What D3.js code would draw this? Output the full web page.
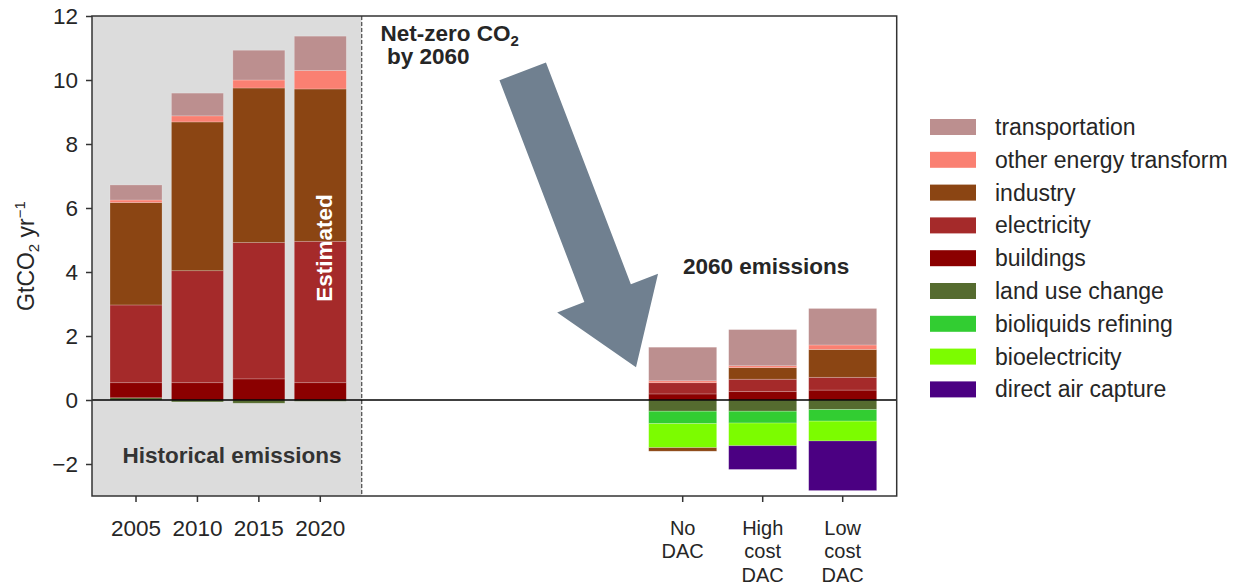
<!DOCTYPE html>
<html>
<head>
<meta charset="utf-8">
<script src="https://cdn.jsdelivr.net/npm/d3@7"></script>
<style>
  html, body { margin: 0; padding: 0; background: #fff; }
  text { font-family: "Liberation Sans", Arial, sans-serif; }
</style>
</head>
<body>
<svg id="chart" width="1238" height="587"></svg>
<script>
// ---------------- data ----------------
const historicalYears = ["2005", "2010", "2015", "2020"];
const scenarios = ["No DAC", "High cost DAC", "Low cost DAC"];
const categories = historicalYears.concat(scenarios);

// values per bar, order follows categories (GtCO2 / yr)
const transportation  = [0.47, 0.71, 0.93, 1.07, 1.05, 1.13, 1.14];
const otherEnergy     = [0.08, 0.19, 0.25, 0.58, 0.06, 0.06, 0.14];
const industry        = [3.20, 4.65, 4.83, 4.76, -0.11, 0.36, 0.87];
const electricity     = [2.43, 3.50, 4.26, 4.42, 0.35, 0.39, 0.40];
const buildings       = [0.47, 0.54, 0.66, 0.54, 0.19, 0.26, 0.31];
const landUseChange   = [0.07, -0.06, -0.10, -0.04, -0.35, -0.35, -0.30];
const bioliquids      = [0, 0, 0, 0, -0.39, -0.37, -0.36];
const bioelectricity  = [0, 0, 0, 0, -0.75, -0.71, -0.62];
const directAirCapture= [0, 0, 0, 0, 0, -0.74, -1.55];

const yTicks = [-2, 0, 2, 4, 6, 8, 10, 12];

const sectorNames = ["transportation", "other energy transform", "industry", "electricity",
  "buildings", "land use change", "bioliquids refining", "bioelectricity", "direct air capture"];
const sectorColors = ["#bc8f8f", "#fa8072", "#8b4513", "#a52a2a", "#8b0000",
  "#556b2f", "#32cd32", "#7cfc00", "#4b0082"];
const sectorValues = [transportation, otherEnergy, industry, electricity, buildings,
  landUseChange, bioliquids, bioelectricity, directAirCapture];

// stacking order (closest to zero first)
const stackKeys = ["land use change", "bioliquids refining", "bioelectricity", "buildings",
  "electricity", "industry", "other energy transform", "transportation", "direct air capture"];

// ---------------- layout ----------------
const svg = d3.select("#chart");
const W = 1238, H = 587;
const plot = { left: 92, right: 896.7, top: 16, bottom: 496 };
const divider = 361.7;
const ink = "#262626";
const tickFont = "22.5px";

const y = d3.scaleLinear().domain([-3, 12]).range([plot.bottom, plot.top]);

const xHist = d3.scaleBand().domain(historicalYears).range([105.3, 351])
  .paddingInner(0.153).paddingOuter(0.0765);
const xScen = d3.scaleBand().domain(scenarios).range([642.7, 882.7])
  .paddingInner(0.15).paddingOuter(0.075);
const xOf = c => historicalYears.includes(c) ? xHist(c) : xScen(c);
const bwOf = c => historicalYears.includes(c) ? xHist.bandwidth() : xScen.bandwidth();

// table for d3.stack
const table = categories.map((c, i) => {
  const row = { category: c };
  sectorNames.forEach((s, k) => row[s] = sectorValues[k][i]);
  return row;
});
const series = d3.stack().keys(stackKeys).offset(d3.stackOffsetDiverging)(table);
const color = d3.scaleOrdinal().domain(sectorNames).range(sectorColors);

// background
svg.append("rect").attr("width", W).attr("height", H).attr("fill", "#fff");
svg.append("rect").attr("x", plot.left).attr("y", plot.top)
  .attr("width", divider - plot.left).attr("height", plot.bottom - plot.top)
  .attr("fill", "#dcdcdc");

// bars
svg.append("g").selectAll("g").data(series).join("g")
  .attr("fill", d => color(d.key))
  .selectAll("rect").data(d => d.filter(s => s[1] - s[0] !== 0)).join("rect")
  .attr("x", d => xOf(d.data.category))
  .attr("width", d => bwOf(d.data.category))
  .attr("y", d => y(Math.max(d[0], d[1])))
  .attr("height", d => Math.abs(y(d[0]) - y(d[1])))
  .attr("stroke", "rgba(255,255,255,0.3)")
  .attr("stroke-width", 0.7);

// divider dashed line
svg.append("line").attr("x1", divider).attr("x2", divider)
  .attr("y1", plot.top).attr("y2", plot.bottom)
  .attr("stroke", "#555").attr("stroke-width", 1.3).attr("stroke-dasharray", "4,2");

// zero line
svg.append("line").attr("x1", plot.left).attr("x2", plot.right)
  .attr("y1", y(0)).attr("y2", y(0)).attr("stroke", "#000").attr("stroke-width", 1.5);

// frame
svg.append("rect").attr("x", plot.left).attr("y", plot.top)
  .attr("width", plot.right - plot.left).attr("height", plot.bottom - plot.top)
  .attr("fill", "none").attr("stroke", "#333").attr("stroke-width", 1.5);

// y axis
const yAxis = svg.append("g").attr("transform", `translate(${plot.left},0)`)
  .call(d3.axisLeft(y).tickValues(yTicks).tickSize(6).tickPadding(8).tickFormat(d3.format("d")));
yAxis.select(".domain").remove();
yAxis.selectAll(".tick line").attr("stroke", "#333").attr("stroke-width", 1.5);
yAxis.selectAll(".tick text").attr("fill", ink).style("font-size", tickFont)
  .style("font-family", "Liberation Sans, Arial, sans-serif");

// x axes
function styleX(g, size) {
  g.select(".domain").remove();
  g.selectAll(".tick line").attr("stroke", "#333").attr("stroke-width", 1.5);
  g.selectAll(".tick text").attr("fill", ink).style("font-size", size)
    .style("font-family", "Liberation Sans, Arial, sans-serif");
}
const xh = svg.append("g").attr("transform", `translate(0,${plot.bottom})`)
  .call(d3.axisBottom(xHist).tickSize(6).tickPadding(18));
styleX(xh, tickFont);
const xs = svg.append("g").attr("transform", `translate(0,${plot.bottom})`)
  .call(d3.axisBottom(xScen).tickSize(6).tickPadding(19));
styleX(xs, "20px");
xs.selectAll(".tick text").each(function(d) {
  const t = d3.select(this);
  const words = d.split(" ");
  t.text(null);
  words.forEach((w, i) => {
    t.append("tspan").attr("x", 0).attr("dy", i === 0 ? "0.71em" : "1.16em").text(w);
  });
  t.attr("dy", null);
});

// y label
const yl = svg.append("text").attr("transform", "translate(34,256) rotate(-90)")
  .attr("text-anchor", "middle").attr("fill", ink).style("font-size", "23px");
yl.append("tspan").text("GtCO");
yl.append("tspan").attr("dy", 5).style("font-size", "15px").text("2");
yl.append("tspan").attr("dy", -5).text(" yr");
yl.append("tspan").attr("dy", -9).style("font-size", "15px").text("\u22121");

// annotations
function boldText(x, yy, str, fill) {
  const t = svg.append("text").attr("x", x).attr("y", yy).attr("fill", fill || ink)
    .style("font-size", "22.5px").style("font-weight", "bold");
  if (str !== null) t.text(str);
  return t;
}
boldText(232, 463, "Historical emissions", "#333").attr("text-anchor", "middle");
boldText(0, 0, "Estimated", "#fff").attr("text-anchor", "middle")
  .attr("dominant-baseline", "central")
  .attr("transform", "translate(324,248) rotate(-90)");
const nz = boldText(380.5, 41, null);
nz.append("tspan").text("Net-zero CO");
nz.append("tspan").attr("dy", 5).style("font-size", "15px").text("2");
boldText(387, 64, "by 2060");
boldText(683, 274, "2060 emissions");

// arrow (annotation)
const tail = [522.7, 71.3], tip = [636, 367.3];
const shaftW = 49.8, headW = 108, headL = 79.4;
const dx = tip[0] - tail[0], dy = tip[1] - tail[1];
const L = Math.hypot(dx, dy), ux = dx / L, uy = dy / L, px = -uy, py = ux;
const base = [tip[0] - ux * headL, tip[1] - uy * headL];
const pt = (p, s) => [p[0] + px * s, p[1] + py * s];
const arrowPts = [pt(tail, shaftW / 2), pt(base, shaftW / 2), pt(base, headW / 2), tip,
  pt(base, -headW / 2), pt(base, -shaftW / 2), pt(tail, -shaftW / 2)];
svg.append("polygon").attr("points", arrowPts.map(p => p.join(",")).join(" "))
  .attr("fill", "#708090");

// legend
const lg = svg.append("g").attr("transform", "translate(930,127)");
const item = lg.selectAll("g").data(sectorNames).join("g")
  .attr("transform", (d, i) => `translate(0,${i * 32.8})`);
item.append("rect").attr("x", 0).attr("y", -8).attr("width", 46).attr("height", 16)
  .attr("fill", d => color(d));
item.append("text").attr("x", 65).attr("y", 0).attr("dy", "0.35em")
  .attr("fill", ink).style("font-size", "23px").text(d => d);
</script>
</body>
</html>
